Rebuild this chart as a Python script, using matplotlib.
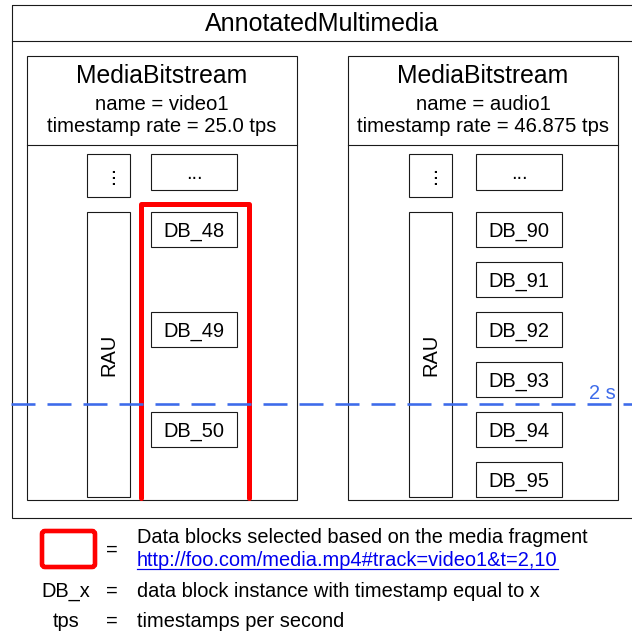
import matplotlib
matplotlib.use("Agg")
import matplotlib.pyplot as plt
from matplotlib.patches import Rectangle, FancyBboxPatch

plt.rcParams['font.family'] = ['Liberation Sans', 'DejaVu Sans']

# ---- content ----
outer_title = "AnnotatedMultimedia"
stream_titles = ["MediaBitstream", "MediaBitstream"]
stream_names = ["video1", "audio1"]
stream_rates = ["25.0", "46.875"]
video_blocks = [48, 49, 50]
audio_blocks = [90, 91, 92, 93, 94, 95]
marker_label = "2 s"
legend_keys = ["", "DB_x", "tps"]
legend_texts = ["Data blocks selected based on the media fragment",
                "data block instance with timestamp equal to x",
                "timestamps per second"]
legend_link = "http://foo.com/media.mp4#track=video1&t=2,10"

W, H = 632, 635
fig = plt.figure(figsize=(W / 100, H / 100), dpi=100)
ax = fig.add_axes([0, 0, 1, 1])
ax.set_xlim(0, W)
ax.set_ylim(H, 0)
ax.axis('off')

EC = '#1a1a1a'
LW = 0.8
PX = 0.72  # points per pixel


def box(x0, y0, x1, y1, ec=EC, lw=LW, z=2):
    ax.add_patch(Rectangle((x0, y0), x1 - x0, y1 - y0, fill=False, ec=ec, lw=lw, zorder=z))


# outer container
box(12, 5, 640, 518)
ax.plot([12, 640], [41, 41], color=EC, lw=LW)
ax.text(322, 31, outer_title, ha='center', va='baseline', fontsize=25 * PX)

stream_x = [27, 348]
stream_w = 270
for i, sx in enumerate(stream_x):
    box(sx, 56, sx + stream_w, 500)
    ax.plot([sx, sx + stream_w], [145, 145], color=EC, lw=LW)
    cx = sx + stream_w / 2
    ax.text(cx, 83, stream_titles[i], ha='center', va='baseline', fontsize=24.8 * PX)
    ax.text(cx, 110.5, f"name = {stream_names[i]}", ha='center', va='baseline', fontsize=20.3 * PX)
    ax.text(cx, 132.5, f"timestamp rate = {stream_rates[i]} tps", ha='center', va='baseline',
            fontsize=20.3 * PX)
    # RAU column
    rx0 = sx + 60 + (1 if i else 0)
    rx1 = rx0 + 43
    box(rx0, 154, rx1, 197)
    ax.text((rx0 + rx1) / 2 + 6, 175.5, "...", rotation=90, rotation_mode='anchor',
            ha='center', va='baseline', fontsize=22 * PX)
    box(rx0, 212, rx1, 497)
    ax.text((rx0 + rx1) / 2, 354.5, "RAU", rotation=90, ha='center', va='center',
            fontsize=20 * PX)
    # data block column
    dx0 = sx + 124 + (4 if i else 0)
    dx1 = dx0 + 86
    box(dx0, 154, dx1, 190)
    ax.text((dx0 + dx1) / 2, 179, "...", ha='center', va='baseline', fontsize=20 * PX)

    blocks = video_blocks if i == 0 else audio_blocks
    step = 300 / len(blocks)
    for k, b in enumerate(blocks):
        y0 = 212 + k * step
        box(dx0, y0, dx1, y0 + 35)
        ax.text((dx0 + dx1) / 2, y0 + 24.5, f"DB_{b}", ha='center', va='baseline',
                fontsize=20 * PX)

# red selection (video fragment)
ax.plot([141, 141, 249, 249], [498, 203.5, 203.5, 498], color='#ff0000', lw=5 * PX,
        solid_joinstyle='round', solid_capstyle='round', zorder=4)

# 2 s marker
ax.plot([11, 640], [404, 404], color='#3d6bea', lw=2.6 * PX, dashes=(24 / 2.6, 12 / 2.6),
        zorder=5)
ax.text(602, 399, marker_label, ha='center', va='baseline', color='#3d6bea', fontsize=20 * PX,
        zorder=6)

# legend
ax.add_patch(FancyBboxPatch((42, 531), 53, 36, boxstyle="round,pad=0,rounding_size=3",
                            fill=False, ec='#ff0000', lw=4.6 * PX, zorder=4))
ax.text(112, 556, "=", ha='center', va='baseline', fontsize=20 * PX)
ax.text(137, 543, legend_texts[0], ha='left', va='baseline', fontsize=20 * PX)
lt = ax.text(137, 566.5, legend_link, ha='left', va='baseline', fontsize=20 * PX, color='#0000ee')
fig.canvas.draw()
bb = lt.get_window_extent(renderer=fig.canvas.get_renderer())
inv = ax.transData.inverted()
(xa, _), (xb, _) = inv.transform([[bb.x0, bb.y0], [bb.x1, bb.y0]])
ax.plot([xa, xb], [569, 569], color='#0000ee', lw=1.2 * PX)

ax.text(66, 597, legend_keys[1], ha='center', va='baseline', fontsize=20 * PX)
ax.text(112, 597, "=", ha='center', va='baseline', fontsize=20 * PX)
ax.text(137, 597, legend_texts[1], ha='left', va='baseline', fontsize=20 * PX)
ax.text(66, 627, legend_keys[2], ha='center', va='baseline', fontsize=20 * PX)
ax.text(112, 627, "=", ha='center', va='baseline', fontsize=20 * PX)
ax.text(137, 627, legend_texts[2], ha='left', va='baseline', fontsize=20 * PX)

fig.savefig("out.png", dpi=100, facecolor='white')
